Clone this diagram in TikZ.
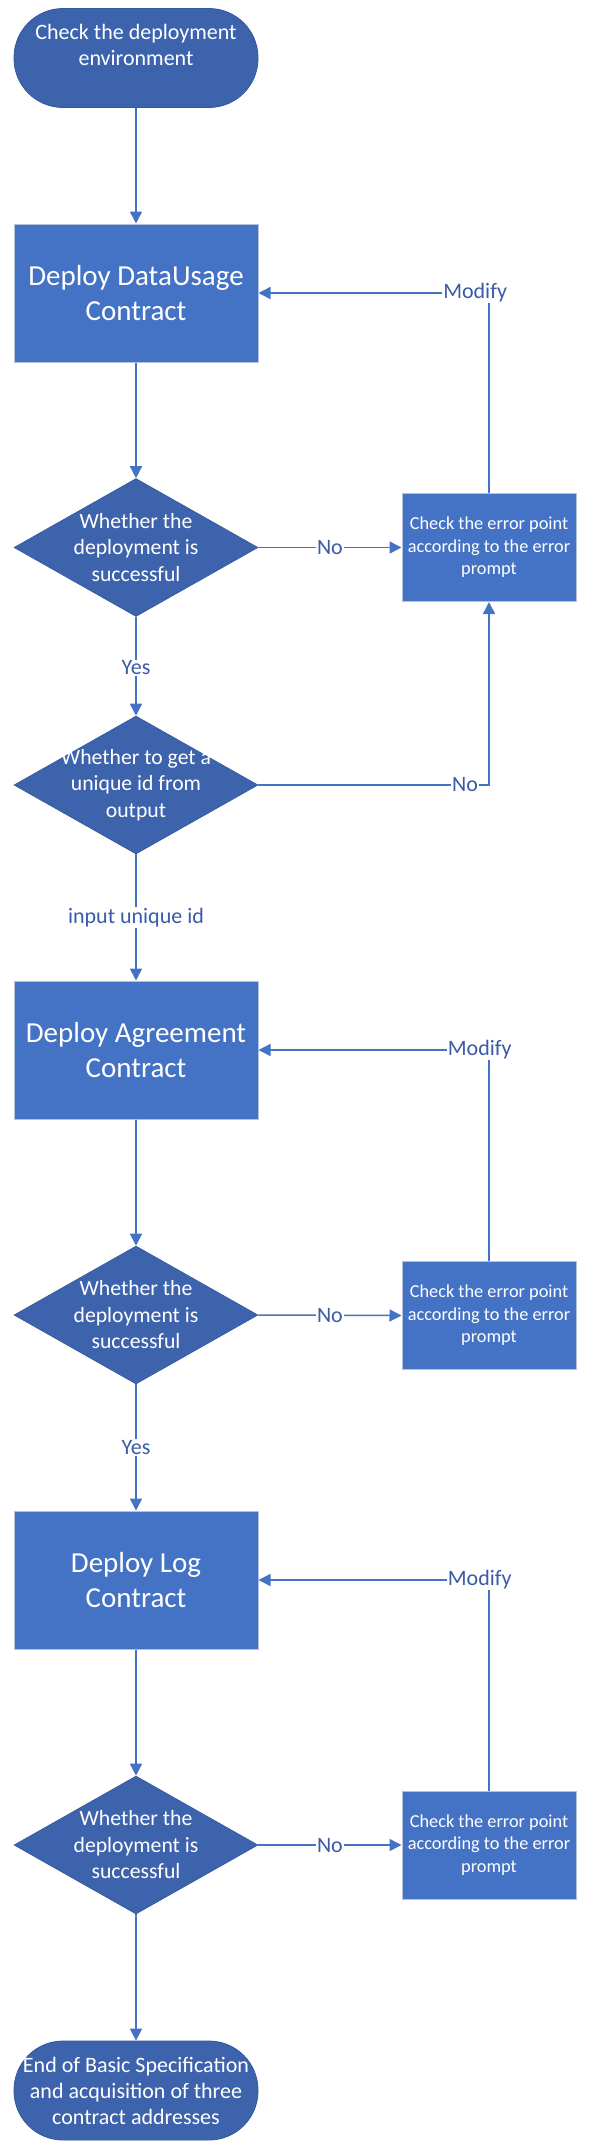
\documentclass[tikz,border=0pt]{standalone}
\usepackage{fontspec}
\setmainfont{Carlito}
\usetikzlibrary{shapes.geometric,arrows.meta}
\definecolor{termfill}{HTML}{3D63AD}
\definecolor{termborder}{HTML}{34589E}
\definecolor{boxfill}{HTML}{4472C4}
\definecolor{boxborder}{HTML}{B4C2DE}
\definecolor{linecol}{HTML}{4472C4}
\definecolor{lblcol}{HTML}{3A5BA8}
\tikzset{
  term/.style={draw=termborder, fill=termfill, rounded corners=49pt, minimum width=244pt, minimum height=99pt, inner sep=0pt, line width=0.8pt},
  termtext/.style={text=white, align=center, font=\fontsize{22}{26}\selectfont, inner sep=0pt},
  procbox/.style={draw=boxborder, fill=boxfill, minimum width=244pt, minimum height=138pt, inner sep=0pt, line width=1pt, text=white, align=center, font=\fontsize{29}{35}\selectfont},
  errbox/.style={draw=boxborder, fill=boxfill, minimum width=174pt, minimum height=108pt, inner sep=0pt, line width=1pt, text=white, align=center, font=\fontsize{18.3}{22.5}\selectfont},
  dec/.style={diamond, draw=termborder, fill=termfill, minimum width=244pt, minimum height=138pt, inner sep=0pt, line width=0.6pt},
  dectext/.style={text=white, align=center, font=\fontsize{21.7}{26.5}\selectfont, inner sep=0pt},
  conn/.style={draw=linecol, line width=1.5pt, -{Triangle[length=12pt,width=12pt]}},
  plainconn/.style={draw=linecol, line width=1.5pt},
  lbl/.style={fill=white, text=lblcol, font=\fontsize{22}{26}\selectfont, inner sep=1pt}
}
\begin{document}
\begin{tikzpicture}[x=1pt,y=-1pt]
\useasboundingbox (0,0) rectangle (593,2150);
% main column
\node[term, label={[termtext, yshift=13pt]center:Check the deployment\\environment}] (start) at (136,58) {};
\node[procbox] (box1) at (136,293) {Deploy DataUsage\\Contract};
\node[dec, label={[dectext]center:Whether the\\deployment is\\successful}] (d1) at (136,547.5) {};
\node[dec, label={[dectext]center:Whether to get a\\unique id from\\output}] (d2) at (136,785) {};
\node[procbox] (box2) at (136,1050) {Deploy Agreement\\Contract};
\node[dec, label={[dectext]center:Whether the\\deployment is\\successful}] (d3) at (136,1315) {};
\node[procbox] (box3) at (136,1580) {Deploy Log\\Contract};
\node[dec, label={[dectext]center:Whether the\\deployment is\\successful}] (d4) at (136,1845) {};
\node[term, label={[termtext]center:End of Basic Specification\\and acquisition of three\\contract addresses}] (end) at (136,2090.5) {};
% error boxes
\node[errbox] (e1) at (489,547.5) {Check the error point\\according to the error\\prompt};
\node[errbox] (e2) at (489,1315.5) {Check the error point\\according to the error\\prompt};
\node[errbox] (e3) at (489,1845) {Check the error point\\according to the error\\prompt};
% connectors
\draw[conn] (start) -- (box1);
\draw[conn] (box1) -- (d1);
\draw[conn] (d1.south) -- node[lbl,pos=0.515]{Yes} (d2.north);
\draw[conn] (d2.south) -- node[lbl,pos=0.5]{input unique id} (box2.north);
\draw[conn] (box2) -- (d3.north);
\draw[conn] (d3.south) -- node[lbl,pos=0.5]{Yes} (box3.north);
\draw[conn] (box3) -- (d4.north);
\draw[conn] (d4.south) -- (end.north);
\draw[conn] (d1.east) -- node[lbl,pos=0.5]{No} (e1.west);
\draw[conn] (d2.east) -| node[lbl,pos=0.448]{No} (e1.south);
\draw[conn] (d3.east) -- node[lbl,pos=0.5]{No} (e2.west);
\draw[conn] (d4.east) -- node[lbl,pos=0.5]{No} (e3.west);
\draw[conn] (e1.north) |- node[lbl,pos=0.53]{Modify} (box1.east);
\draw[conn] (e2.north) |- node[lbl,pos=0.52]{Modify} (box2.east);
\draw[conn] (e3.north) |- node[lbl,pos=0.52]{Modify} (box3.east);
\end{tikzpicture}
\end{document}
